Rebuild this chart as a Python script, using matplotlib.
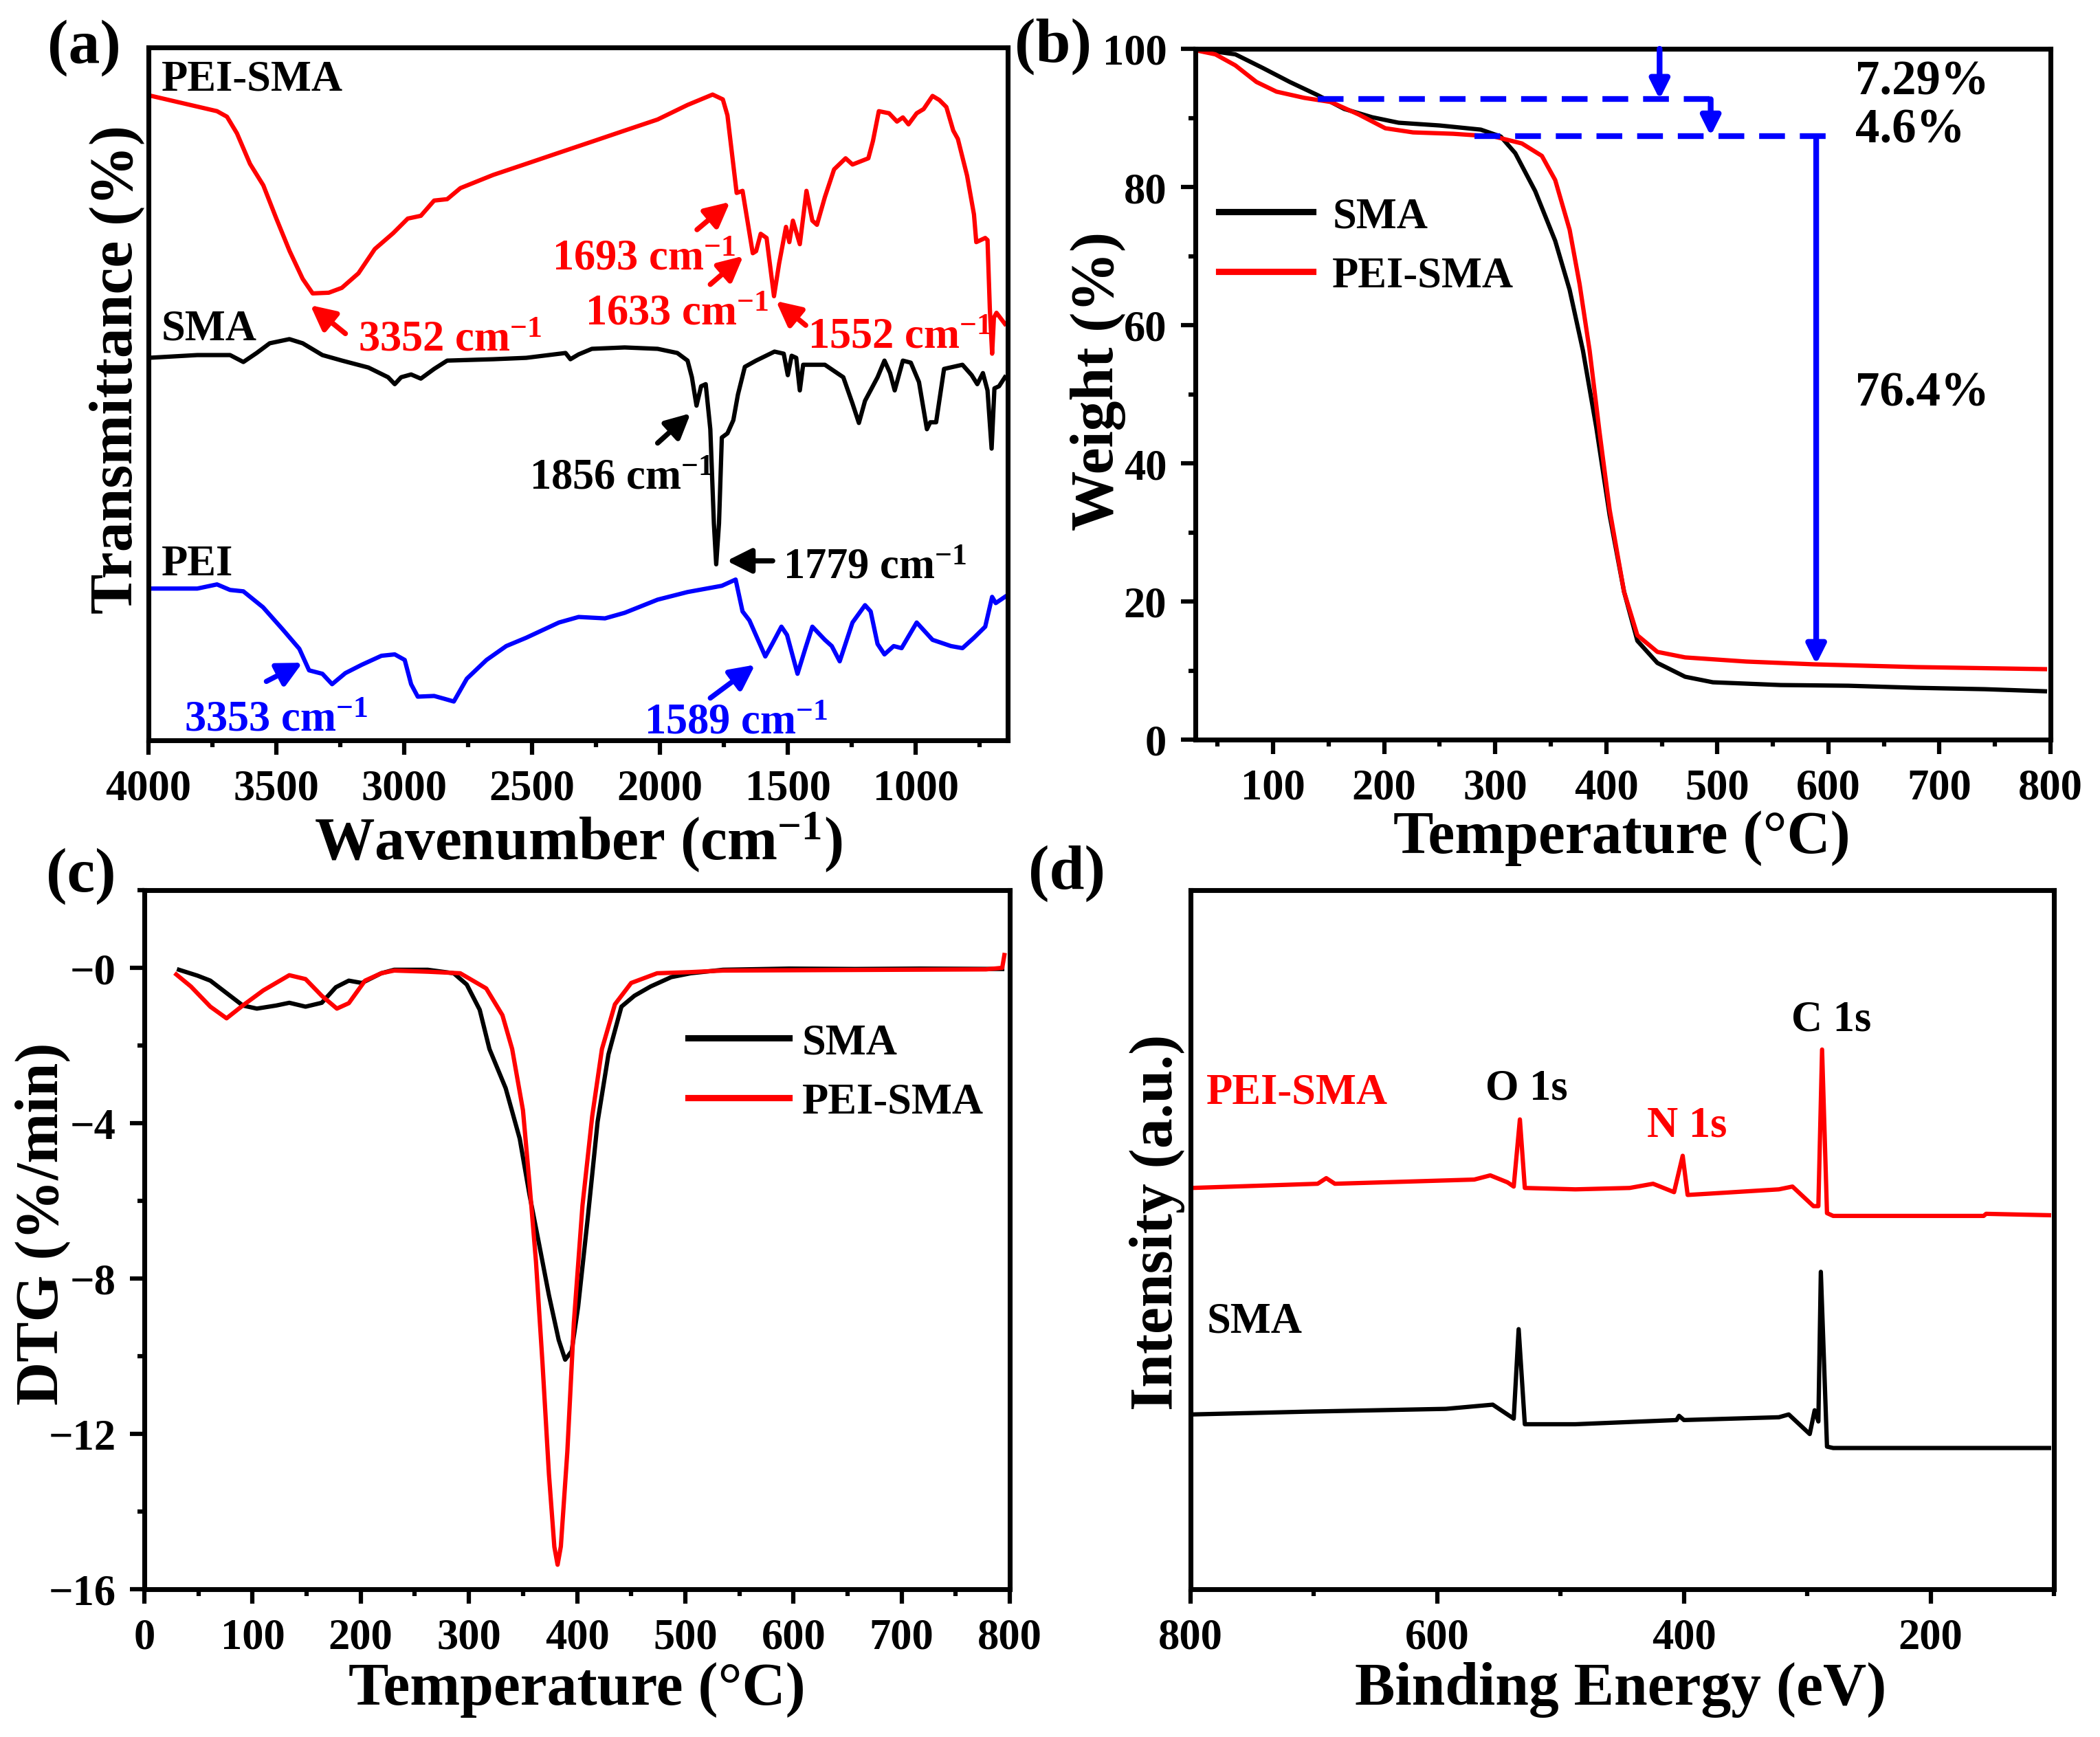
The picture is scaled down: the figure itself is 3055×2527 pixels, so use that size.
import numpy as np
import matplotlib
matplotlib.use('Agg')
import matplotlib.pyplot as plt
from matplotlib.ticker import MultipleLocator, FixedLocator, FuncFormatter

# ---------------- (a) FTIR (normalised transmittance, arbitrary offsets) ----------------
ftir_pei_sma_w = [4000, 3732, 3693, 3654, 3603, 3551, 3500, 3448, 3397, 3358, 3295, 3244, 3179, 3115, 3043,
                  2986, 2935, 2883, 2832, 2780, 2652, 2523, 2395, 2266, 2138, 2009, 1892, 1794, 1754, 1736,
                  1700, 1677, 1637, 1624, 1606, 1583, 1554, 1534, 1507, 1494, 1480, 1453, 1427, 1404, 1386,
                  1355, 1319, 1274, 1247, 1185, 1167, 1144, 1104, 1073, 1050, 1028, 996, 969, 934, 907, 880,
                  853, 835, 799, 772, 763, 728, 719, 710, 701, 694, 684, 651]
ftir_pei_sma_t = [93.1, 90.8, 90.0, 87.6, 83.2, 80.1, 75.3, 70.6, 66.6, 64.5, 64.6, 65.3, 67.4, 70.9, 73.2,
                  75.3, 75.7, 77.9, 78.1, 79.7, 81.6, 83.2, 84.8, 86.4, 88.0, 89.6, 91.7, 93.2, 92.5, 90.2,
                  79.0, 79.3, 70.3, 70.6, 73.1, 72.5, 64.1, 68.8, 74.1, 71.9, 75.0, 71.6, 79.3, 75.0, 74.4,
                  78.4, 82.4, 84.0, 83.1, 84.0, 86.5, 90.8, 90.5, 89.3, 89.9, 88.9, 90.5, 91.1, 93.0, 92.4, 91.4,
                  88.0, 86.8, 81.5, 75.9, 71.9, 72.5, 72.2, 62.3, 55.8, 61.0, 61.7, 60.1]

ftir_sma_w = [4000, 3809, 3681, 3629, 3577, 3526, 3449, 3397, 3320, 3243, 3140, 3063, 3037, 3012, 2973,
              2935, 2883, 2832, 2652, 2523, 2369, 2350, 2318, 2266, 2138, 2009, 1932, 1892, 1875, 1857,
              1839, 1821, 1803, 1789, 1780, 1769, 1758, 1736, 1713, 1695, 1668, 1624, 1552, 1516, 1500,
              1485, 1467, 1453, 1440, 1355, 1283, 1247, 1222, 1198, 1149, 1122, 1100, 1082, 1050, 1019,
              987, 956, 943, 920, 889, 817, 781, 759, 737, 719, 703, 692, 674, 651]
ftir_sma_t = [55.2, 55.6, 55.6, 54.6, 55.9, 57.3, 57.9, 57.3, 55.6, 54.8, 53.8, 52.4, 51.4, 52.4, 52.8,
              52.2, 53.6, 54.8, 55.0, 55.2, 55.9, 55.0, 55.7, 56.5, 56.7, 56.5, 55.9, 54.8, 52.4, 48.3,
              51.1, 51.4, 44.9, 31.3, 25.4, 31.3, 43.7, 44.3, 46.2, 49.9, 53.9, 54.8, 56.1, 55.8, 52.7,
              55.5, 55.2, 50.5, 54.2, 54.2, 52.4, 48.6, 45.8, 49.0, 52.4, 54.8, 53.0, 50.5, 54.8, 54.5,
              51.7, 44.9, 45.9, 45.9, 53.6, 54.2, 52.7, 51.4, 53.0, 50.5, 42.1, 50.8, 51.1, 52.4]

ftir_pei_w = [4000, 4000, 3809, 3732, 3681, 3629, 3552, 3475, 3410, 3372, 3320, 3282, 3230, 3166, 3089,
              3037, 2998, 2973, 2947, 2883, 2844, 2806, 2755, 2678, 2601, 2523, 2395, 2318, 2215, 2138,
              2009, 1892, 1758, 1704, 1677, 1650, 1588, 1561, 1525, 1503, 1462, 1431, 1404, 1355, 1328,
              1297, 1247, 1198, 1176, 1149, 1122, 1086, 1055, 996, 934, 862, 817, 772, 728, 701, 687, 651]
ftir_pei_t = [0.0, 21.9, 21.9, 22.5, 21.7, 21.5, 19.2, 16.0, 13.2, 10.1, 9.6, 8.1, 9.7, 10.9, 12.2,
              12.4, 11.6, 8.1, 6.3, 6.4, 6.0, 5.6, 8.9, 11.6, 13.6, 14.8, 17.0, 17.8, 17.6, 18.4,
              20.3, 21.4, 22.3, 23.2, 18.6, 17.3, 12.1, 13.9, 16.4, 15.2, 9.6, 13.3, 16.4, 14.5, 13.6,
              11.4, 17.0, 19.5, 18.6, 13.9, 12.4, 13.6, 13.3, 17.0, 14.5, 13.6, 13.3, 14.8, 16.4, 20.7,
              19.8, 20.7]

# ---------------- (b) TGA ----------------
tga_sma_T = [30, 66, 91, 115, 140, 164, 189, 213, 250, 287, 305, 318, 336, 354, 367, 379, 391, 403, 416,
             428, 446, 471, 496, 557, 618, 679, 741, 795]
tga_sma_w = [100.0, 99.2, 97.2, 95.2, 93.3, 91.3, 90.1, 89.3, 88.9, 88.3, 87.3, 84.9, 79.4, 72.2, 65.1,
             56.3, 45.2, 32.5, 21.4, 14.3, 11.1, 9.1, 8.3, 7.9, 7.8, 7.5, 7.3, 7.0]
tga_pei_T = [30, 48, 66, 85, 103, 128, 152, 177, 201, 226, 262, 299, 324, 342, 354, 367, 376, 385, 394,
             403, 416, 428, 446, 471, 526, 587, 679, 795]
tga_pei_w = [99.8, 99.2, 97.6, 95.2, 93.8, 92.9, 92.3, 90.5, 88.5, 87.9, 87.7, 87.3, 86.3, 84.5, 81.0,
             73.8, 65.9, 56.3, 44.4, 33.3, 21.4, 15.1, 12.7, 11.9, 11.3, 10.9, 10.5, 10.2]
loss_levels = [92.7, 87.4]
loss_labels = ['7.29%', '4.6%', '76.4%']

# ---------------- (c) DTG ----------------
dtg_sma_T = [32, 49, 61, 76, 91, 104, 122, 134, 149, 164, 177, 189, 201, 219, 231, 262, 286, 298, 310,
             319, 334, 347, 356, 365, 374, 383, 389, 395, 401, 410, 419, 429, 441, 453, 468, 487, 505,
             535, 596, 657, 717, 793]
dtg_sma_v = [-0.05, -0.2, -0.33, -0.65, -0.97, -1.05, -0.97, -0.9, -1.0, -0.9, -0.5, -0.33, -0.39, -0.14,
             -0.05, -0.05, -0.14, -0.43, -1.08, -2.09, -3.1, -4.4, -5.84, -7.13, -8.43, -9.58, -10.09,
             -9.87, -8.72, -6.41, -3.96, -2.23, -1.0, -0.72, -0.48, -0.24, -0.14, -0.05, -0.02, -0.03,
             -0.02, -0.03]
dtg_pei_T = [29.5, 43, 61, 76, 91, 110, 134, 149, 164, 178, 189, 204, 219, 231, 262, 292, 316, 331, 340,
             350, 356, 362, 368, 374, 379, 382, 385, 391, 397, 405, 414, 423, 435, 450, 474, 505, 535,
             778, 793, 795]
dtg_pei_v = [-0.17, -0.48, -1.0, -1.3, -0.97, -0.58, -0.19, -0.29, -0.72, -1.05, -0.91, -0.33, -0.14,
             -0.07, -0.1, -0.14, -0.53, -1.22, -2.09, -3.67, -5.55, -7.56, -10.16, -13.04, -14.91, -15.37,
             -14.9, -12.46, -9.15, -6.12, -3.82, -2.09, -0.94, -0.39, -0.14, -0.11, -0.07, -0.04, 0.0, 0.33]

# ---------------- (d) XPS survey (offset intensities) ----------------
xps_pei_E = [799, 697, 690, 683, 626, 570, 557, 543, 538, 533, 529, 488, 444, 425, 408, 401, 397, 378,
             323, 312, 295, 291, 288, 284, 279, 157, 155, 104]
xps_pei_I = [57.4, 58.0, 58.8, 58.0, 58.3, 58.6, 59.2, 58.2, 57.6, 67.2, 57.4, 57.2, 57.4, 58.0, 56.8,
             62.0, 56.4, 56.6, 57.2, 57.6, 54.8, 54.8, 77.2, 53.8, 53.4, 53.4, 53.7, 53.5]
xps_sma_E = [799, 706, 593, 555, 538, 534, 529, 488, 406, 404, 400, 323, 315, 298, 294, 291, 289, 284,
             279, 104]
xps_sma_I = [25.0, 25.4, 25.8, 26.4, 24.4, 37.2, 23.6, 23.6, 24.2, 24.8, 24.2, 24.6, 25.0, 22.2, 25.6,
             24.0, 45.4, 20.4, 20.2, 20.2]

RED, BLUE, BLACK = '#FF0000', '#0000FF', '#000000'

plt.rcParams.update({
    'font.family': ['Liberation Serif', 'DejaVu Serif'],
    'font.weight': 'bold',
    'axes.labelweight': 'bold',
    'mathtext.fontset': 'custom',
    'mathtext.rm': 'Liberation Serif:bold',
    'mathtext.it': 'Liberation Serif:bold',
    'mathtext.bf': 'Liberation Serif:bold',
    'mathtext.default': 'rm',
    'axes.linewidth': 1.7,
})

W, H = 3055, 2528
fig = plt.figure(figsize=(W / 300, H / 300), dpi=300)


def add_ax(l, r, t, b):
    return fig.add_axes([l / W, 1 - b / H, (r - l) / W, (b - t) / H])


axA = add_ax(216, 1466, 70, 1078)
axB = add_ax(1739, 2983, 72, 1077)
axC = add_ax(210, 1469, 1296, 2313)
axD = add_ax(1732, 2988, 1296, 2313)

TICK_FS = 15
LAB_FS = 21
LW = 1.5


def style(ax, left=True):
    ax.tick_params(which='major', direction='out', length=5, width=1.5, labelsize=TICK_FS,
                   top=False, right=False, left=left, pad=5)
    ax.tick_params(which='minor', direction='out', length=2.5, width=1.5,
                   top=False, right=False, left=left)
    if not left:
        ax.set_yticks([])


def label(ax, text, x, y, rot=0, color=BLACK):
    ax.text(x, y, text, transform=ax.transAxes, ha='center', va='center', rotation=rot,
            fontsize=LAB_FS, fontweight='bold', color=color)


def arrow(ax, tail, head, color, lw=1.8, ms=18):
    ax.annotate('', xy=head, xytext=tail,
                arrowprops=dict(arrowstyle='-|>', color=color, lw=lw, mutation_scale=ms,
                                shrinkA=0, shrinkB=0))

# ---------------- (a) ----------------
ax = axA
ax.plot(ftir_pei_sma_w, ftir_pei_sma_t, color=RED, lw=LW)
ax.plot(ftir_sma_w, ftir_sma_t, color=BLACK, lw=LW)
ax.plot(ftir_pei_w, ftir_pei_t, color=BLUE, lw=LW)
ax.set_xlim(4000, 640)
ax.set_ylim(0, 100)
ax.xaxis.set_major_locator(FixedLocator([4000, 3500, 3000, 2500, 2000, 1500, 1000]))
ax.xaxis.set_minor_locator(FixedLocator([3750, 3250, 2750, 2250, 1750, 1250, 750]))
style(ax, left=False)
label(ax, 'Wavenumber (cm$^{-1}$)', 0.5, -0.147)
label(ax, 'Transmittance (%)', -0.037, 0.536, rot=90)
AFS = 15
ax.text(3950, 93.9, 'PEI-SMA', fontsize=AFS, color=BLACK, va='baseline')
ax.text(3950, 57.9, 'SMA', fontsize=AFS, color=BLACK, va='baseline')
ax.text(3950, 23.9, 'PEI', fontsize=AFS, color=BLACK, va='baseline')
ann = [
    ('3352', 3179, 56.3, RED, (3230, 58.7), (3367, 62.8)),
    ('1693', 2421, 68.0, RED, (1855, 73.7), (1726, 77.7)),
    ('1633', 2292, 60.1, RED, (1803, 65.8), (1674, 69.9)),
    ('1552', 1422, 56.7, RED, (1430, 59.9), (1546, 63.4)),
    ('1856', 2510, 36.4, BLACK, (2009, 42.9), (1880, 47.2)),
    ('1779', 1520, 23.5, BLACK, (1559, 25.9), (1739, 25.9)),
    ('3353', 3860, 1.4, BLUE, (3539, 8.5), (3398, 11.2)),
    ('1589', 2061, 1.0, BLUE, (1803, 6.1), (1628, 10.9)),
]
for num, tx, ty, c, tail, head in ann:
    ax.text(tx, ty, num + ' cm$^{-1}$', fontsize=AFS, color=c, va='baseline', ha='left')
    arrow(ax, tail, head, c)

# ---------------- (b) ----------------
ax = axB
ax.plot(tga_sma_T, tga_sma_w, color=BLACK, lw=LW, label='SMA')
ax.plot(tga_pei_T, tga_pei_w, color=RED, lw=LW, label='PEI-SMA')
ax.set_xlim(30, 800)
ax.set_ylim(0, 100)
ax.xaxis.set_major_locator(FixedLocator([100, 200, 300, 400, 500, 600, 700, 800]))
ax.xaxis.set_minor_locator(FixedLocator([50, 150, 250, 350, 450, 550, 650, 750]))
ax.yaxis.set_major_locator(MultipleLocator(20))
ax.yaxis.set_minor_locator(MultipleLocator(10))
style(ax)
label(ax, 'Temperature (°C)', 0.499, -0.142)
label(ax, 'Weight (%)', -0.114, 0.52, rot=90)
leg = ax.legend(loc='upper left', bbox_to_anchor=(0.027, 0.786), frameon=False, fontsize=15,
                handlelength=2.2, handletextpad=0.45, labelspacing=0.46, borderpad=0, borderaxespad=0)
for h in leg.get_lines():
    h.set_linewidth(2.2)
dash = (0, (4.5, 2.6))
ax.plot([140, 502], [loss_levels[0]] * 2, color=BLUE, lw=2.0, ls=dash)
ax.plot([281, 603], [loss_levels[1]] * 2, color=BLUE, lw=2.0, ls=dash)
arrow(ax, (448, 100), (448, loss_levels[0]), BLUE, lw=2.0, ms=14)
arrow(ax, (494, loss_levels[0]), (494, loss_levels[1]), BLUE, lw=2.0, ms=14)
arrow(ax, (589, loss_levels[1] - 0.5), (589, 10.9), BLUE, lw=2.0, ms=14)
ax.text(624, 93.5, loss_labels[0], fontsize=17, va='baseline')
ax.text(624, 86.5, loss_labels[1], fontsize=17, va='baseline')
ax.text(624, 48.4, loss_labels[2], fontsize=17, va='baseline')

# ---------------- (c) ----------------
ax = axC
ax.plot(dtg_sma_T, dtg_sma_v, color=BLACK, lw=LW, label='SMA')
ax.plot(dtg_pei_T, dtg_pei_v, color=RED, lw=LW, label='PEI-SMA')
ax.set_xlim(0, 800)
ax.set_ylim(-16, 2)
ax.xaxis.set_major_locator(MultipleLocator(100))
ax.xaxis.set_minor_locator(MultipleLocator(50))
ax.yaxis.set_major_locator(FixedLocator([0, -4, -8, -12, -16]))
ax.yaxis.set_minor_locator(FixedLocator([2, -2, -6, -10, -14]))
ax.yaxis.set_major_formatter(FuncFormatter(lambda v, p: '\u2212%d' % abs(round(v))))
style(ax)
label(ax, 'Temperature (°C)', 0.5, -0.143)
label(ax, 'DTG (%/min)', -0.118, 0.524, rot=90)
leg = ax.legend(loc='upper left', bbox_to_anchor=(0.628, 0.81), frameon=False, fontsize=15,
                handlelength=2.36, handletextpad=0.3, labelspacing=0.46, borderpad=0, borderaxespad=0)
for h in leg.get_lines():
    h.set_linewidth(2.2)

# ---------------- (d) ----------------
ax = axD
ax.plot(xps_pei_E, xps_pei_I, color=RED, lw=LW)
ax.plot(xps_sma_E, xps_sma_I, color=BLACK, lw=LW)
ax.set_xlim(800, 100)
ax.set_ylim(0, 100)
ax.xaxis.set_major_locator(FixedLocator([800, 600, 400, 200]))
ax.xaxis.set_minor_locator(FixedLocator([700, 500, 300, 100]))
style(ax, left=False)
label(ax, 'Binding Energy (eV)', 0.498, -0.143)
label(ax, 'Intensity (a.u.)', -0.039, 0.526, rot=90)
ax.text(787, 69.6, 'PEI-SMA', fontsize=15, color=RED, va='baseline')
ax.text(561, 70.2, 'O 1s', fontsize=15, color=BLACK, va='baseline')
ax.text(430, 64.8, 'N 1s', fontsize=15, color=RED, va='baseline')
ax.text(313, 80.0, 'C 1s', fontsize=15, color=BLACK, va='baseline')
ax.text(787, 36.8, 'SMA', fontsize=15, color=BLACK, va='baseline')

# ---------------- panel letters ----------------
for txt, (px, py) in [('(a)', (122, 70)), ('(b)', (1532, 68)), ('(c)', (118, 1275)), ('(d)', (1552, 1271))]:
    fig.text(px / W, 1 - py / H, txt, ha='center', va='center', fontsize=22, fontweight='bold')

fig.savefig('out.png', dpi=300)
